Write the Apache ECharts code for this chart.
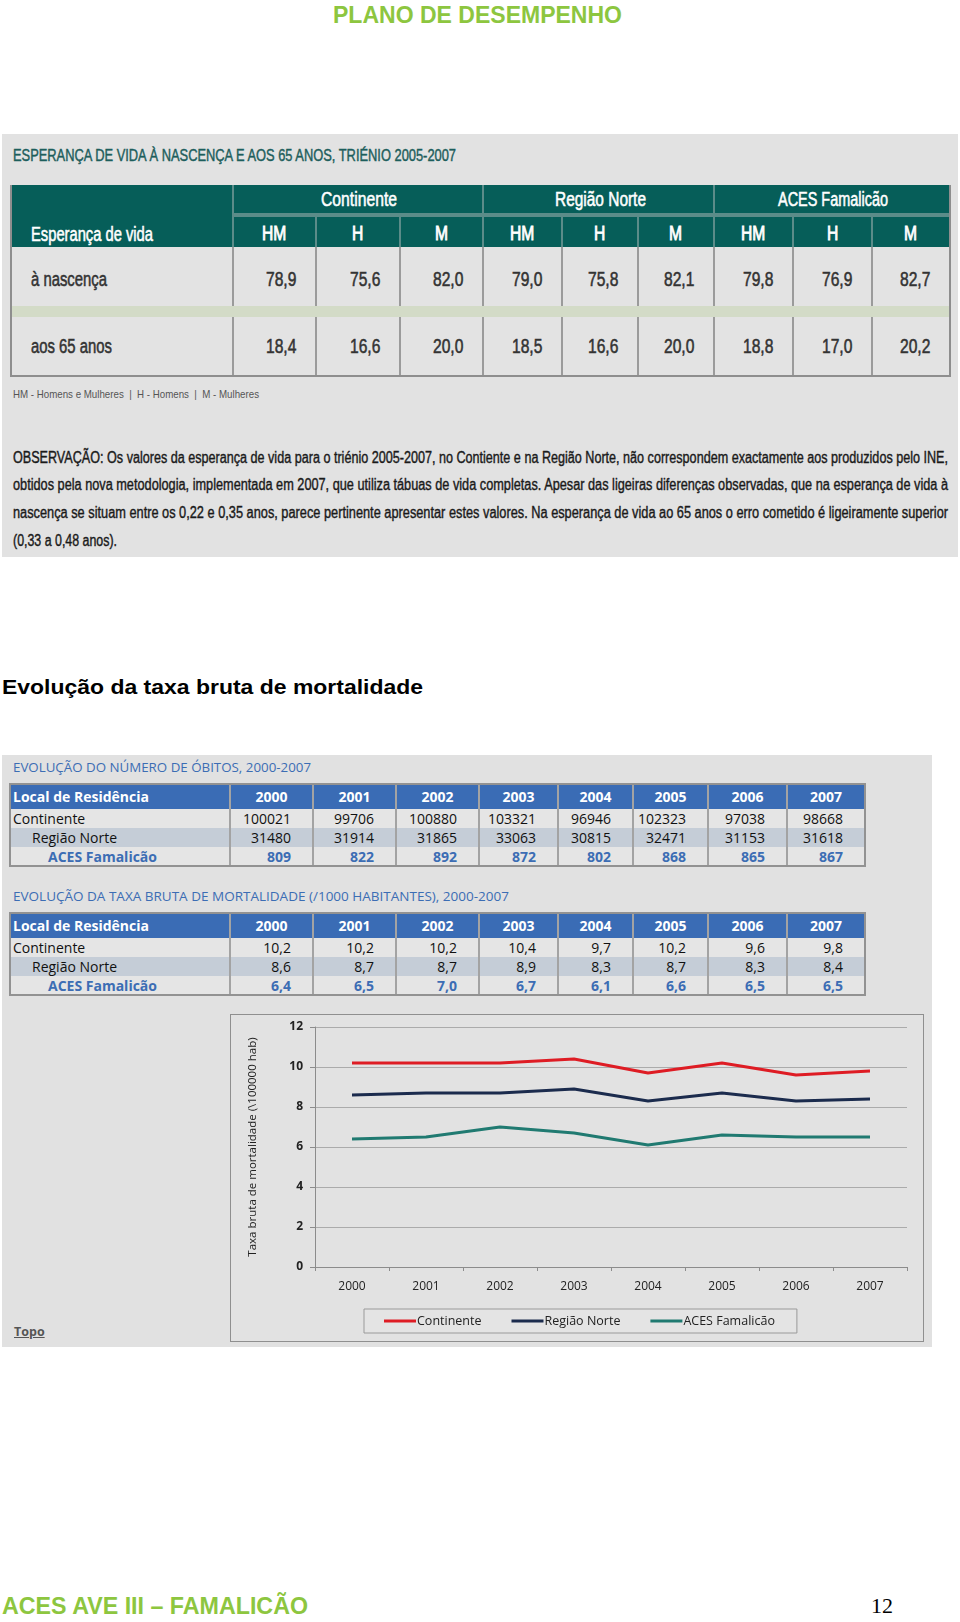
<!DOCTYPE html>
<html><head><meta charset="utf-8">
<script src="https://cdn.jsdelivr.net/npm/echarts@6/dist/echarts.min.js"></script>
<style>
html,body{margin:0;padding:0;background:#fff;}
#page{position:relative;width:960px;height:1622px;overflow:hidden;background:#fff;}
.r{position:absolute;}
</style></head>
<body><div id="page"></div>
<script>
// ---------- DATA ----------
const pageTitle = 'PLANO DE DESEMPENHO';
const lifeTitle = 'ESPERANÇA DE VIDA À NASCENÇA E AOS 65 ANOS, TRIÉNIO 2005-2007';
const lifeCorner = 'Esperança de vida';
const lifeGroups = ['Continente', 'Região Norte', 'ACES Famalicão'];
const lifeSubs = ['HM', 'H', 'M'];
const lifeRowLabels = ['à nascença', 'aos 65 anos'];
const lifeAtBirth = ['78,9', '75,6', '82,0', '79,0', '75,8', '82,1', '79,8', '76,9', '82,7'];
const lifeAt65 = ['18,4', '16,6', '20,0', '18,5', '16,6', '20,0', '18,8', '17,0', '20,2'];
const lifeNote = 'HM - Homens e Mulheres  |  H - Homens  |  M - Mulheres';
const obsLines = [
  'OBSERVAÇÃO: Os valores da esperança de vida para o triénio 2005-2007, no Contiente e na Região Norte, não correspondem exactamente aos produzidos pelo INE,',
  'obtidos pela nova metodologia, implementada em 2007, que utiliza tábuas de vida completas. Apesar das ligeiras diferenças observadas, que na esperança de vida à',
  'nascença se situam entre os 0,22 e 0,35 anos, parece pertinente apresentar estes valores. Na esperança de vida ao 65 anos o erro cometido é ligeiramente superior',
  '(0,33 a 0,48 anos).'
];
const sectionHeading = 'Evolução da taxa bruta de mortalidade';
const deathsTitle = 'EVOLUÇÃO DO NÚMERO DE ÓBITOS, 2000-2007';
const rateTitle = 'EVOLUÇÃO DA TAXA BRUTA DE MORTALIDADE (/1000 HABITANTES), 2000-2007';
const residenceHeader = 'Local de Residência';
const years = ['2000', '2001', '2002', '2003', '2004', '2005', '2006', '2007'];
const regions = ['Continente', 'Região Norte', 'ACES Famalicão'];
const deathsContinente = [100021, 99706, 100880, 103321, 96946, 102323, 97038, 98668];
const deathsNorte = [31480, 31914, 31865, 33063, 30815, 32471, 31153, 31618];
const deathsAces = [809, 822, 892, 872, 802, 868, 865, 867];
const rateContinente = [10.2, 10.2, 10.2, 10.4, 9.7, 10.2, 9.6, 9.8];
const rateNorte = [8.6, 8.7, 8.7, 8.9, 8.3, 8.7, 8.3, 8.4];
const rateAces = [6.4, 6.5, 7.0, 6.7, 6.1, 6.6, 6.5, 6.5];
const yAxisTitle = 'Taxa bruta de mortalidade (\\100000 hab)';
const topoText = 'Topo';
const footerText = 'ACES AVE III – FAMALICÃO';
const pageNumber = '12';

// ---------- HELPERS ----------
const page = document.getElementById('page');
const SANS = '"Liberation Sans", Arial, sans-serif';
const OPEN = '"Open Sans", "DejaVu Sans", sans-serif';
function R(x, y, w, h, c) {
  const d = document.createElement('div');
  d.className = 'r';
  d.style.cssText += `left:${x}px;top:${y}px;width:${w}px;height:${h}px;background:${c};`;
  page.appendChild(d);
  return d;
}
function T(text, o) {
  const s = document.createElement('span');
  s.textContent = text;
  s.style.cssText = `position:absolute;white-space:pre;font-family:${o.f || SANS};font-size:${o.s}px;font-weight:${o.b ? 'bold' : 'normal'};color:${o.c || '#222'};line-height:${o.s}px;transform-origin:0 50%;` + (o.u ? 'text-decoration:underline;' : '') + (o.st ? `-webkit-text-stroke:${o.st}px ${o.c || '#222'};` : '');
  page.appendChild(s);
  const w0 = s.getBoundingClientRect().width;
  const k = o.w ? o.w / w0 : (o.k || 1);
  const W = w0 * k;
  const a = o.a || 'l';
  const left = a === 'l' ? o.x : (a === 'c' ? o.x - W / 2 : o.x - W);
  s.style.left = left + 'px';
  s.style.top = (o.y - o.s / 2) + 'px';
  s.style.transform = `scaleX(${k})`;
  return s;
}
const fmt1 = v => v.toFixed(1).replace('.', ',');

// ---------- PAGE HEADER ----------
const GREEN = '#8dc63f';
T(pageTitle, {x: 477, y: 15, s: 23, b: true, c: GREEN, a: 'c', w: 289});

// ---------- PANEL 1 : life expectancy ----------
R(2, 134, 956, 423, '#e2e2e2');
T(lifeTitle, {x: 13, y: 155, s: 17, c: '#1d5e5c', w: 443, st: 0.45});
const TEAL = '#065e59', TLINE = '#5b8c89';
const lc = [11, 233, 316, 400, 483, 562, 638, 714, 793, 872, 950];
R(11, 185, 939, 62, TEAL);
R(233, 213, 717, 4, TLINE);
[233, 483, 714].forEach(x => R(x - 1, 185, 2, 62, TLINE));
[316, 400, 562, 638, 793, 872].forEach(x => R(x - 1, 217, 2, 30, TLINE));
R(11, 247, 939, 59, '#e3e3e3');
R(11, 306, 939, 11, '#d3dbc7');
R(11, 317, 939, 58, '#e3e3e3');
lc.slice(1, 10).forEach(x => { R(x - 1, 247, 2, 59, '#9b9b9b'); R(x - 1, 317, 2, 58, '#9b9b9b'); });
R(10, 185, 2, 192, '#8e8e8e');
R(949, 185, 2, 192, '#8e8e8e');
R(10, 375, 941, 2, '#8e8e8e');
const KC = 0.78, ST = 0.55;
T(lifeCorner, {x: 31, y: 234, s: 20, c: '#fff', w: 122, st: ST});
const grpCenters = [359, 600, 833], grpW = [76, 91, 110];
lifeGroups.forEach((g, i) => T(g, {x: grpCenters[i], y: 199, s: 20, c: '#fff', a: 'c', w: grpW[i], st: ST}));
for (let i = 0; i < 9; i++) {
  const cx = (lc[i + 1] + lc[i + 2]) / 2;
  T(lifeSubs[i % 3], {x: cx, y: 233, s: 20, c: '#fff', a: 'c', k: KC, st: 0.9});
  T(lifeAtBirth[i], {x: lc[i + 2] - 20, y: 279, s: 20, c: '#333', a: 'r', k: KC, st: ST});
  T(lifeAt65[i], {x: lc[i + 2] - 20, y: 346, s: 20, c: '#333', a: 'r', k: KC, st: ST});
}
T(lifeRowLabels[0], {x: 31, y: 279, s: 20, c: '#333', w: 76, st: ST});
T(lifeRowLabels[1], {x: 31, y: 346, s: 20, c: '#333', w: 81, st: ST});
T(lifeNote, {x: 13, y: 394, s: 11, c: '#555', w: 246});
const obsY = [458, 485, 513, 541];
obsLines.forEach((ln, i) => {
  T(ln, {x: 13, y: obsY[i], s: 16, c: '#1a1a1a', w: i < 3 ? 935 : 104, st: 0.4});
});

// ---------- SECTION HEADING ----------
T(sectionHeading, {x: 2, y: 686, s: 21, b: true, c: '#000', w: 421});

// ---------- PANEL 2 ----------
R(2, 755, 930, 592, '#e1e1e1');
const BLUE = '#3a6cb5', BLUE_T = '#3c6db4';
T(deathsTitle, {x: 13, y: 768, s: 12.5, f: OPEN, c: BLUE_T, w: 298});
T(rateTitle, {x: 13, y: 897, s: 12.5, f: OPEN, c: BLUE_T, w: 496});
const bc = [10, 230, 313, 396, 479, 558, 633, 708, 787, 865];
function blueTable(top, rows, fmt) {
  R(10, top, 855, 25, BLUE);
  R(10, top + 25, 855, 19, '#e5e5e5');
  R(10, top + 44, 855, 19, '#c5cdd7');
  R(10, top + 63, 855, 19, '#e5e5e5');
  bc.slice(1, 9).forEach(x => R(x - 1, top, 2, 82, '#a3a3a3'));
  R(9, top, 2, 83, '#929292'); R(864, top, 2, 83, '#929292');
  R(9, top - 1, 857, 2, '#929292'); R(9, top + 81, 857, 2, '#929292');
  T(residenceHeader, {x: 13, y: top + 13, s: 14, f: OPEN, b: true, c: '#fff'});
  years.forEach((y, i) => T(y, {x: (bc[i + 1] + bc[i + 2]) / 2, y: top + 13, s: 14, f: OPEN, b: true, c: '#fff', a: 'c'}));
  const lx = [13, 32, 48];
  rows.forEach((vals, r) => {
    const yy = top + 25 + 19 * r + 10;
    const isA = r === 2;
    T(regions[r], {x: lx[r], y: yy, s: 14, f: OPEN, b: isA, c: isA ? BLUE_T : '#111'});
    vals.forEach((v, i) => T(fmt(v), {x: bc[i + 2] - 22, y: yy, s: 14, f: OPEN, b: isA, c: isA ? BLUE_T : '#111', a: 'r'}));
  });
}
blueTable(784, [deathsContinente, deathsNorte, deathsAces], v => String(v));
blueTable(913, [rateContinente, rateNorte, rateAces], fmt1);

// chart frame
const frame = R(230, 1014, 694, 328, '#e2e2e2');
frame.style.boxSizing = 'border-box';
frame.style.border = '1px solid #8f8f8f';
const cdiv = document.createElement('div');
cdiv.style.cssText = 'position:absolute;left:0;top:0;width:692px;height:326px;';
frame.appendChild(cdiv);

T(topoText, {x: 14, y: 1332, s: 12.5, f: OPEN, b: true, c: '#555', u: true});

// ---------- FOOTER ----------
T(footerText, {x: 2, y: 1606, s: 23, b: true, c: GREEN, w: 306});
T(pageNumber, {x: 871, y: 1606, s: 22, f: '"Liberation Serif", "Times New Roman", serif', c: '#000'});

// ---------- CHART ----------
const chart = echarts.init(cdiv, null, {renderer: 'canvas'});
const axisGray = '#8c8c8c';
chart.setOption({
  animation: false,
  backgroundColor: '#e2e2e2',
  textStyle: {fontFamily: OPEN},
  grid: {left: 84, right: 16, top: 12, bottom: 74},
  legend: {
    data: regions, left: 133, top: 294, padding: [5, 22, 5, 20], itemGap: 30,
    icon: 'rect', itemWidth: 32, itemHeight: 3, backgroundColor: '#e4e4e4', borderColor: '#9a9a9a', borderWidth: 1,
    textStyle: {fontSize: 12.5, color: '#222', fontFamily: OPEN, lineHeight: 14, padding: [0, 0, 0, -4]}
  },
  xAxis: {
    type: 'category', data: years, boundaryGap: true,
    axisLine: {lineStyle: {color: axisGray}},
    axisTick: {show: true, length: 4, lineStyle: {color: axisGray}},
    axisLabel: {margin: 14, fontSize: 12, color: '#222'}
  },
  yAxis: {
    type: 'value', min: 0, max: 12, interval: 2,
    name: yAxisTitle, nameLocation: 'middle', nameGap: 56, nameRotate: 90,
    nameTextStyle: {fontSize: 11.5, color: '#222'},
    axisLine: {show: true, lineStyle: {color: axisGray}},
    axisTick: {show: true, length: 5, lineStyle: {color: axisGray}},
    axisLabel: {margin: 12, fontSize: 12, color: '#222', fontWeight: 'bold'},
    splitLine: {lineStyle: {color: '#ababab'}}
  },
  series: [
    {name: regions[0], type: 'line', data: rateContinente, symbol: 'none', lineStyle: {width: 3, color: '#de1c24'}, itemStyle: {color: '#de1c24'}},
    {name: regions[1], type: 'line', data: rateNorte, symbol: 'none', lineStyle: {width: 3, color: '#1b2b4d'}, itemStyle: {color: '#1b2b4d'}},
    {name: regions[2], type: 'line', data: rateAces, symbol: 'none', lineStyle: {width: 3, color: '#207a71'}, itemStyle: {color: '#207a71'}}
  ]
});
</script>
</body></html>
